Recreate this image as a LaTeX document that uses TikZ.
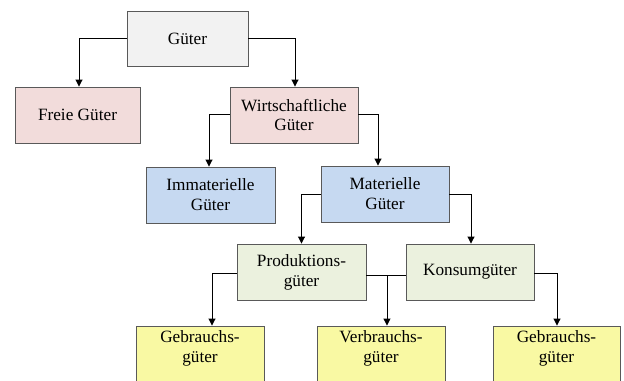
\documentclass[tikz,border=0pt]{standalone}
\usepackage{fontspec}
\setmainfont{Liberation Serif}
\usetikzlibrary{arrows.meta}
\definecolor{cgray}{HTML}{F2F2F2}
\definecolor{cpink}{HTML}{F2DCDB}
\definecolor{cblue}{HTML}{C6D9F1}
\definecolor{cgreen}{HTML}{EBF1DE}
\definecolor{cyellow}{HTML}{F9F9A3}
\definecolor{cborder}{HTML}{595959}
\tikzset{
  box/.style={draw=cborder, line width=0.9bp, minimum height=56bp, align=center, inner sep=0pt,
    font=\fontsize{17.3}{20}\selectfont},
  arr/.style={draw=black, line width=0.9bp, -{Triangle[width=7bp,length=7bp]}},
  ln/.style={draw=black, line width=0.9bp}
}
\begin{document}
\begin{tikzpicture}[x=1bp,y=-1bp]
\useasboundingbox (0,0) rectangle (624,380);
\clip (0,0) rectangle (624,380);
\node[box, fill=cgray, minimum width=121bp, minimum height=55bp] (gueter) at (187.5,38.5) {Güter};
\node[box, fill=cpink, minimum width=125bp] (freie) at (77.5,115) {Freie Güter};
\node[box, fill=cpink, minimum width=128bp] (wirt) at (294,115) {Wirtschaftliche\\Güter};
\node[box, fill=cblue, minimum width=129bp] (immat) at (210.5,195) {Immaterielle\\Güter};
\node[box, fill=cblue, minimum width=128bp] (mat) at (385,194) {Materielle\\Güter};
\node[box, fill=cgreen, minimum width=129bp] (prod) at (301.5,272) {Produktions-\\güter};
\node[box, fill=cgreen, minimum width=128bp] (kons) at (470,272) {Konsumgüter};
\node[box, fill=cyellow, minimum width=128bp, text height=30bp, text depth=14bp] (geb1) at (200,354) {Gebrauchs-\\güter};
\node[box, fill=cyellow, minimum width=128bp, text height=30bp, text depth=14bp] (verb) at (381,354) {Verbrauchs-\\güter};
\node[box, fill=cyellow, minimum width=127bp, text height=30bp, text depth=14bp] (geb2) at (556.5,354) {Gebrauchs-\\güter};

\draw[arr] (gueter.west) -| ([xshift=1.5bp]freie.north);
\draw[arr] (gueter.east) -| ([xshift=1bp]wirt.north);
\draw[arr] ([yshift=1bp]wirt.west) -| ([xshift=-1.5bp]immat.north);
\draw[arr] ([yshift=1bp]wirt.east) -| ([xshift=-7bp]mat.north);
\draw[arr] (mat.west) -| (prod.north);
\draw[arr] (mat.east) -| ([xshift=1bp]kons.north);
\draw[arr] ([yshift=-1bp]prod.west) -| ([xshift=12bp]geb1.north);
\draw[ln] ([yshift=-3bp]prod.east) -- coordinate[pos=0.525] (br) ([yshift=-3bp]kons.west);
\draw[arr] (br) -- (br |- verb.north);
\draw[arr] ([yshift=-1bp]kons.east) -| ([xshift=0.5bp]geb2.north);
\end{tikzpicture}
\end{document}
